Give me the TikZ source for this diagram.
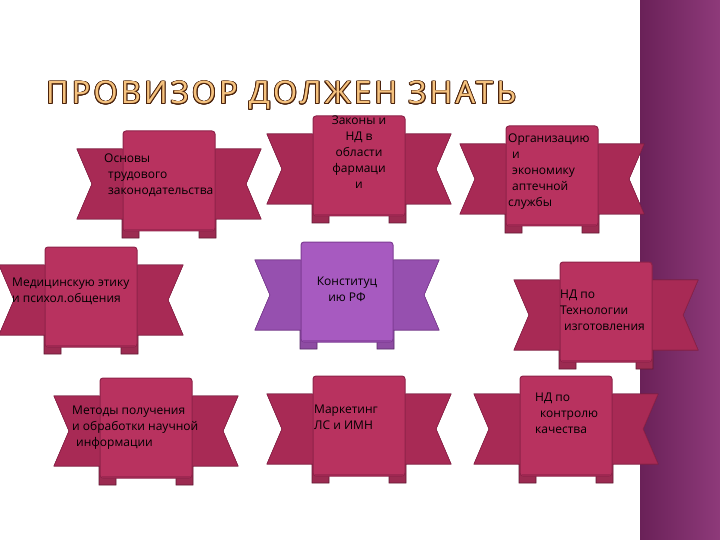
\documentclass[tikz,border=0pt]{standalone}
\usepackage{fontspec}
\setmainfont{Open Sans}
\usepackage{contour}
\contourlength{0.9pt}
\contournumber{16}
\definecolor{crim}{HTML}{B8325F}
\definecolor{crimd}{HTML}{8E2249}
\definecolor{crimb}{HTML}{A82A55}
\definecolor{purp}{HTML}{A75AC0}
\definecolor{purpd}{HTML}{7E3C94}
\definecolor{purpb}{HTML}{9650AF}
\definecolor{side1}{HTML}{6A2158}
\definecolor{side2}{HTML}{8E3A7A}
\definecolor{ttl}{HTML}{F5C27E}
\definecolor{ttlo}{HTML}{4A220C}
\tikzset{
 txt/.style={font=\fontsize{12}{16}\selectfont, align=left, text=black, inner sep=0pt},
 pics/ribbon/.style n args={3}{code={
  \fill[#2!85!black,draw=#1!70!black, line width=0.6pt]
   (-92,-32) -- (-47,-32) -- (-47,57) -- (-30,57) -- (-30,38) -- (-92,38) -- (-77,3) -- cycle;
  \fill[#2!85!black,draw=#1!70!black, line width=0.6pt]
   (92,-32) -- (47,-32) -- (47,57) -- (30,57) -- (30,38) -- (92,38) -- (77,3) -- cycle;
  \fill[#3,draw=#1,line width=0.6pt] (-92,-32) -- (92,-32) -- (77,3) -- (92,38) -- (-92,38) -- (-77,3) -- cycle;
  \fill[#2,draw=#1,line width=1pt,rounded corners=3pt] (-46,-50) rectangle (46,50);
  \fill[#1!60!#2] (-44,48) rectangle (44,50);
 }}
}
\begin{document}
\begin{tikzpicture}[x=1pt,y=-1pt]
\useasboundingbox (0,0) rectangle (720,540);
\fill[white] (0,0) rectangle (720,540);
\shade[left color=side1,right color=side2] (640,0) rectangle (720,540);
\pic (r1) at (169,181) {ribbon={crimd}{crim}{crimb}};
\pic (r2) at (359,166) {ribbon={crimd}{crim}{crimb}};
\pic (r3) at (552,176) {ribbon={crimd}{crim}{crimb}};
\pic (r4) at (91,297) {ribbon={crimd}{crim}{crimb}};
\pic (r5) at (347,292) {ribbon={purpd}{purp}{purpb}};
\pic (r6) at (606,312) {ribbon={crimd}{crim}{crimb}};
\pic (r7) at (146,428) {ribbon={crimd}{crim}{crimb}};
\pic (r8) at (359,426) {ribbon={crimd}{crim}{crimb}};
\pic (r9) at (566,426) {ribbon={crimd}{crim}{crimb}};
\node[font=\fontsize{31}{31}\selectfont\addfontfeature{LetterSpace=10}, anchor=west, inner sep=0pt] (title) at (46,96) {\contour{ttlo}{\color{ttl}ПРОВИЗОР ДОЛЖЕН ЗНАТЬ}};
\node[txt,anchor=north west] (t1) at (104,154) {Основы\\\hspace{4pt}трудового\\\hspace{4pt}законодательства};
\node[txt,align=center,anchor=north] (t2) at (359,116) {Законы и\\НД в\\области\\фармаци\\и};
\node[txt,anchor=north west] (t3) at (508,134) {Организацию\\\hspace{4pt}и\\\hspace{4pt}экономику\\\hspace{4pt}аптечной\\службы};
\node[txt,anchor=north west] (t4) at (12,278) {Медицинскую этику\\и психол.общения};
\node[txt,align=center,anchor=north] (t5) at (347,277) {Конституц\\ию РФ};
\node[txt,anchor=north west] (t6) at (560,290) {НД по\\Технологии\\\hspace{4pt}изготовления};
\node[txt,anchor=north west] (t7) at (72,406) {Методы получения\\и обработки научной\\\hspace{4pt}информации};
\node[txt,anchor=north west] (t8) at (314,405) {Маркетинг\\ЛС и ИМН};
\node[txt,anchor=north west] (t9) at (535,393) {НД по\\\hspace{5pt}контролю\\качества};
\end{tikzpicture}
\end{document}
